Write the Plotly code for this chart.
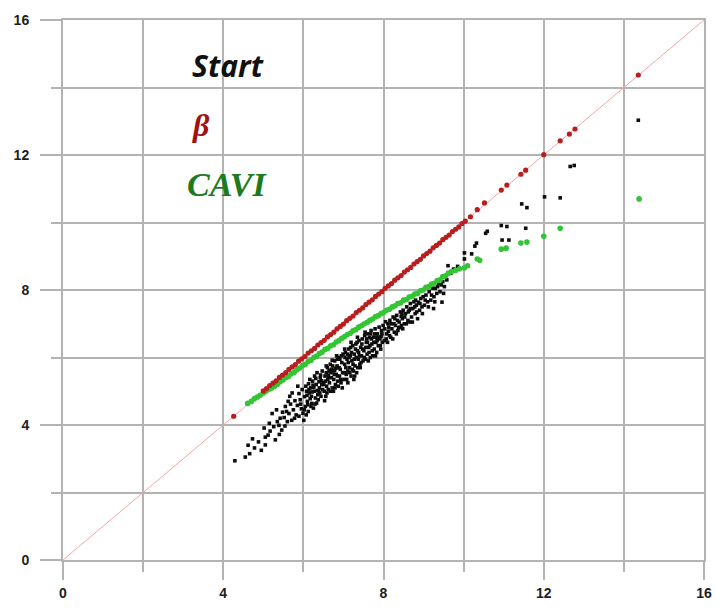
import plotly.graph_objects as go

# ---- data -------------------------------------------------------------
diag_ends = [0, 16]

start_x = [
    4.29, 4.55, 4.66, 4.78, 4.73, 4.62, 4.88, 4.95,
    5.05, 5.05, 5.02, 5.17, 5.30, 5.22, 5.39, 5.42, 5.12, 5.26, 5.35, 5.46, 5.48, 5.33, 5.15, 5.40,
    5.54, 5.64, 5.71, 5.89, 5.79, 5.89, 5.55, 5.60, 5.68, 5.75, 5.82, 5.85, 5.92, 5.95, 5.58, 5.66,
    5.72, 5.78, 5.97, 5.86, 5.62, 5.93, 5.52, 5.99,
    6.01, 6.03, 6.21, 6.13, 6.38, 6.45, 6.28, 6.05, 6.08, 6.10, 6.12, 6.15, 6.18, 6.20, 6.23, 6.25,
    6.27, 6.30, 6.32, 6.34, 6.36, 6.40, 6.42, 6.44, 6.47, 6.48, 6.06, 6.16, 6.33, 6.24, 6.39, 6.11, 6.46,
    6.02, 6.07, 6.14, 6.19, 6.22, 6.29, 6.31, 6.37, 6.41, 6.43, 6.49, 6.09, 6.17, 6.26, 6.35,
    6.53, 6.63, 6.52, 6.55, 6.57, 6.58, 6.60, 6.62, 6.65, 6.67, 6.70, 6.72, 6.74, 6.76, 6.78, 6.80,
    6.82, 6.84, 6.86, 6.88, 6.90, 6.92, 6.94, 6.96, 6.98, 6.54, 6.69, 6.75, 6.83, 6.91, 6.59, 6.73,
    6.87, 6.99, 6.66, 6.81,
    6.51, 6.56, 6.61, 6.64, 6.68, 6.71, 6.77, 6.79, 6.85, 6.89, 6.93, 6.97, 6.57, 6.72, 6.85, 6.95,
    6.62, 6.78,
    7.01, 7.03, 7.05, 7.07, 7.09, 7.11, 7.13, 7.15, 7.17, 7.19, 7.21, 7.23, 7.25, 7.27, 7.29, 7.31,
    7.33, 7.35, 7.37, 7.39, 7.41, 7.43, 7.45, 7.47, 7.49, 7.06, 7.14, 7.22, 7.30, 7.38, 7.46, 7.12,
    7.26, 7.42, 7.18, 7.34,
    7.02, 7.04, 7.08, 7.10, 7.16, 7.20, 7.24, 7.28, 7.32, 7.36, 7.40, 7.44, 7.48, 7.03, 7.19, 7.35,
    7.27, 7.11,
    7.51, 7.53, 7.55, 7.57, 7.59, 7.61, 7.63, 7.65, 7.67, 7.69, 7.71, 7.73, 7.75, 7.77, 7.79, 7.81,
    7.83, 7.85, 7.87, 7.89, 7.91, 7.93, 7.95, 7.97, 7.99, 7.58, 7.70, 7.82, 7.94, 7.66,
    7.52, 7.56, 7.60, 7.64, 7.68, 7.72, 7.76, 7.80, 7.84, 7.88, 7.92, 7.96, 7.62, 7.78, 7.54,
    8.02, 8.05, 8.08, 8.10, 8.13, 8.16, 8.18, 8.21, 8.24, 8.27, 8.30, 8.33, 8.36, 8.39, 8.42, 8.45,
    8.47, 8.49, 8.12, 8.26, 8.38, 8.44,
    8.03, 8.07, 8.11, 8.15, 8.19, 8.23, 8.28, 8.32, 8.35, 8.41, 8.46, 8.48,
    8.52, 8.55, 8.58, 8.61, 8.64, 8.67, 8.70, 8.73, 8.76, 8.79, 8.82, 8.85, 8.87, 8.90, 8.93, 8.96,
    8.99, 8.66, 8.80,
    8.53, 8.57, 8.62, 8.68, 8.72, 8.78, 8.83, 8.91, 8.97,
    9.02, 9.06, 9.10, 9.14, 9.18, 9.22, 9.26, 9.29, 9.33, 9.37, 9.41, 9.46, 9.48, 9.52, 9.55, 9.58,
    9.61, 9.25, 9.40,
    9.04, 9.12, 9.20, 9.28, 9.35, 9.44, 9.50,
    9.68, 9.75, 9.85, 10.02, 10.02, 10.20, 10.28, 10.32, 10.55, 10.59, 10.94, 11.08, 11.55, 10.96,
    11.13, 11.45, 11.58, 12.02, 12.41, 12.66, 12.76, 14.36,
]
start_y = [
    2.94, 3.05, 3.15, 3.32, 3.59, 3.40, 3.50, 3.25,
    3.41, 3.64, 3.91, 3.82, 3.56, 4.34, 3.99, 4.20, 3.70, 3.95, 4.10, 3.85, 4.38, 4.45, 4.05, 3.72,
    3.97, 4.34, 4.14, 4.26, 4.72, 4.93, 4.55, 4.10, 4.62, 4.45, 4.30, 4.58, 4.75, 4.48, 4.40, 4.85,
    4.95, 4.20, 5.05, 5.15, 4.70, 4.62, 4.22, 4.35,
    4.14, 4.84, 4.64, 5.22, 5.01, 5.31, 5.45, 4.55, 5.00, 4.70, 4.40, 4.95, 5.10, 4.85, 5.30, 4.50,
    5.00, 4.80, 5.20, 5.55, 4.90, 5.10, 5.40, 4.85, 5.60, 5.05, 5.15, 5.35, 4.65, 5.18, 5.28, 4.60, 5.20,
    4.45, 4.30, 5.05, 4.55, 4.98, 4.62, 5.38, 4.75, 4.95, 5.48, 5.25, 4.88, 4.78, 5.12, 5.02,
    4.72, 5.42, 5.00, 5.30, 5.55, 5.15, 5.70, 5.05, 5.25, 5.80, 5.40, 5.10, 5.60, 5.35, 5.90, 5.20,
    5.50, 5.75, 5.30, 6.00, 5.45, 5.65, 5.25, 5.85, 5.55, 5.45, 5.55, 5.00, 6.05, 5.95, 4.95, 5.75,
    5.15, 6.10, 5.62, 5.68,
    5.20, 4.85, 5.35, 5.60, 5.00, 5.65, 5.50, 5.10, 5.45, 5.70, 5.35, 5.10, 5.75, 5.92, 5.95, 6.05,
    5.48, 5.62,
    5.35, 5.80, 6.15, 5.50, 5.95, 5.25, 6.25, 5.70, 6.05, 5.45, 5.90, 6.35, 5.60, 6.10, 5.75, 6.40,
    5.55, 6.20, 5.95, 6.50, 5.80, 6.30, 6.05, 6.55, 5.90, 5.70, 6.00, 5.65, 6.25, 6.15, 6.40, 5.85,
    5.35, 5.70, 6.30, 6.45,
    5.55, 6.00, 5.35, 6.10, 5.55, 6.15, 5.80, 5.45, 6.00, 5.70, 6.05, 5.85, 6.25, 6.25, 6.45, 6.60,
    5.95, 5.60,
    6.20, 6.65, 5.95, 6.45, 6.10, 6.70, 6.30, 6.59, 6.00, 6.80, 6.40, 6.05, 6.60, 6.25, 6.85, 6.45,
    6.15, 6.70, 6.35, 6.90, 6.55, 6.25, 6.80, 6.45, 6.95, 6.55, 6.55, 6.60, 6.62, 6.35,
    6.00, 6.30, 6.45, 6.15, 6.70, 6.20, 6.45, 6.05, 6.50, 6.60, 6.35, 6.70, 5.90, 6.70, 6.75,
    6.50, 7.06, 6.70, 6.45, 6.90, 7.10, 6.60, 6.85, 7.20, 6.75, 6.95, 7.25, 6.80, 7.05, 7.35, 6.95,
    7.15, 7.40, 6.78, 7.00, 6.88, 7.22,
    6.85, 6.55, 7.00, 6.65, 7.00, 6.55, 7.15, 6.70, 7.10, 6.90, 7.30, 6.85,
    7.00, 7.30, 7.50, 7.10, 7.40, 7.60, 7.20, 7.45, 7.65, 7.30, 7.55, 7.15, 7.64, 7.40, 7.75, 7.50,
    7.80, 7.05, 7.70,
    7.20, 7.00, 7.35, 7.45, 7.05, 7.50, 7.35, 7.60, 7.30,
    7.55, 7.85, 7.65, 7.95, 7.70, 8.05, 7.80, 8.05, 7.90, 8.20, 7.95, 7.64, 8.25, 8.10, 8.40, 8.30,
    8.72, 7.45, 8.30,
    7.70, 7.50, 7.85, 7.65, 8.10, 8.15, 7.90,
    8.50, 8.62, 8.70, 8.92, 9.10, 9.07, 9.30, 9.39, 9.68, 9.74, 9.91, 9.88, 9.83, 9.48,
    9.48, 10.55, 10.44, 10.76, 10.73, 11.66, 11.69, 13.03,
]

beta_x = [
    4.26,
    5.00, 5.08, 5.16, 5.24, 5.32, 5.40, 5.48, 5.56, 5.64, 5.72, 5.80, 5.88, 5.96, 6.04, 6.12, 6.20,
    6.28, 6.36, 6.44, 6.52, 6.60, 6.68, 6.76, 6.84, 6.92, 7.00, 7.08, 7.16, 7.24, 7.32, 7.40, 7.48,
    7.56, 7.64, 7.72, 7.80, 7.88, 7.96, 8.04, 8.12, 8.20, 8.28, 8.36, 8.44, 8.52, 8.60, 8.68, 8.76,
    8.84, 8.92, 9.00, 9.08, 9.16, 9.24, 9.32, 9.40, 9.48, 9.56, 9.64, 9.72, 9.80, 9.88, 9.96, 10.04,
    10.17, 10.34, 10.52, 10.94, 11.08, 11.43, 11.55, 12.00, 12.41, 12.64, 12.78, 14.36,
]
beta_y = [
    4.26,
    5.01, 5.08, 5.17, 5.24, 5.31, 5.41, 5.48, 5.55, 5.65, 5.72, 5.79, 5.89, 5.96, 6.03, 6.13, 6.20,
    6.27, 6.37, 6.44, 6.51, 6.61, 6.68, 6.75, 6.85, 6.92, 6.99, 7.09, 7.16, 7.23, 7.33, 7.40, 7.47,
    7.57, 7.64, 7.71, 7.81, 7.88, 7.95, 8.05, 8.12, 8.19, 8.29, 8.36, 8.43, 8.53, 8.60, 8.67, 8.77,
    8.84, 8.91, 9.01, 9.08, 9.15, 9.25, 9.32, 9.39, 9.49, 9.56, 9.63, 9.73, 9.80, 9.87, 9.97, 10.04,
    10.17, 10.38, 10.58, 10.96, 11.11, 11.43, 11.55, 12.01, 12.42, 12.62, 12.77, 14.37,
]

cavi_x = [
    4.61, 4.70, 4.78, 4.85, 4.92, 5.00, 5.07, 5.14, 5.21, 5.28, 5.35, 5.42, 5.49, 5.56, 5.63, 5.70,
    5.77, 5.84, 5.91, 5.98, 6.05, 6.12, 6.19, 6.26, 6.33, 6.40, 6.47, 6.54, 6.61, 6.68, 6.75, 6.82,
    6.89, 6.96, 7.03, 7.10, 7.17, 7.24, 7.31, 7.38, 7.45, 7.52, 7.59, 7.66, 7.73, 7.80, 7.87, 7.94,
    8.01, 8.08, 8.15, 8.22, 8.29, 8.36, 8.43, 8.50, 8.57, 8.64, 8.71, 8.78, 8.85, 8.92, 8.99, 9.06,
    9.13, 9.20, 9.27, 9.34, 9.41, 9.48, 9.55, 9.62, 9.70, 9.80, 9.90, 10.02, 10.10, 10.34, 10.40,
    10.94, 11.06, 11.43, 11.58, 12.00, 12.41, 14.38,
]
cavi_y = [
    4.64, 4.70, 4.78, 4.83, 4.88, 4.95, 5.00, 5.06, 5.10, 5.15, 5.20, 5.28, 5.33, 5.40, 5.44, 5.52,
    5.56, 5.64, 5.69, 5.76, 5.80, 5.88, 5.92, 6.00, 6.04, 6.12, 6.16, 6.24, 6.27, 6.35, 6.38, 6.46,
    6.50, 6.57, 6.62, 6.68, 6.72, 6.79, 6.83, 6.90, 6.94, 7.00, 7.04, 7.10, 7.14, 7.21, 7.24, 7.30,
    7.34, 7.40, 7.43, 7.50, 7.53, 7.60, 7.62, 7.70, 7.72, 7.79, 7.81, 7.88, 7.90, 7.98, 8.00, 8.08,
    8.10, 8.18, 8.20, 8.28, 8.30, 8.40, 8.42, 8.50, 8.55, 8.58, 8.63, 8.66, 8.72, 8.92, 8.88,
    9.21, 9.24, 9.39, 9.42, 9.59, 9.83, 10.70,
]

axis_ticks = [0, 4, 8, 12, 16]

# ---- styles -------------------------------------------------------------
GRID = "#b3b3b3"

fig = go.Figure()

# identity reference line
fig.add_trace(go.Scatter(
    x=diag_ends, y=diag_ends, mode="lines",
    line=dict(color="#f3a6a6", width=1), hoverinfo="skip", showlegend=False,
))

fig.add_trace(go.Scatter(
    x=start_x, y=start_y, mode="markers", name="Start",
    marker=dict(symbol="square", size=3.6, color="#0d0d0d", line=dict(width=0)),
    showlegend=False,
))
fig.add_trace(go.Scatter(
    x=cavi_x, y=cavi_y, mode="markers", name="CAVI",
    marker=dict(symbol="circle", size=5.6, color="#33c533", line=dict(width=0)),
    showlegend=False,
))
fig.add_trace(go.Scatter(
    x=beta_x, y=beta_y, mode="markers", name="β",
    marker=dict(symbol="circle", size=5.2, color="#b81e1e", line=dict(width=0)),
    showlegend=False,
))

axis_common = dict(
    range=[0, 16], tickvals=axis_ticks, ticktext=[str(v) for v in axis_ticks],
    ticks="outside", tickcolor=GRID, tickwidth=2,
    showgrid=True, gridcolor=GRID, gridwidth=2,
    showline=True, linecolor=GRID, linewidth=2, mirror=True,
    zeroline=False,
    tickfont=dict(family="Liberation Sans", size=14, color="#1e1e1e", weight="bold"),
    minor=dict(dtick=2, tick0=0, ticks="outside", ticklen=10, tickcolor=GRID, tickwidth=2,
               showgrid=True, gridcolor=GRID, gridwidth=2),
    fixedrange=True,
)

fig.update_layout(
    width=723, height=612,
    margin=dict(l=63, r=11, t=20, b=43),
    paper_bgcolor="white", plot_bgcolor="white",
    xaxis=dict(axis_common, ticklen=18, ticklabelstandoff=1),
    yaxis=dict(axis_common, ticklen=21, ticklabelstandoff=8),
    showlegend=False,
)

# series labels drawn as text in the upper-left cell area
fig.add_annotation(x=4.11, y=14.64, xref="x", yref="y", text="<b><i>Start</i></b>",
                   showarrow=False,
                   font=dict(family="Open Sans", size=30, color="#111111"))
fig.add_annotation(x=3.45, y=12.89, xref="x", yref="y", text="<b><i>β</i></b>",
                   showarrow=False,
                   font=dict(family="Liberation Serif", size=32, color="#a01212"))
fig.add_annotation(x=4.11, y=11.14, xref="x", yref="y", text="<b><i>CAVI</i></b>",
                   showarrow=False,
                   font=dict(family="Liberation Serif", size=34, color="#1d7a1d"))

fig.write_html("out.html")
